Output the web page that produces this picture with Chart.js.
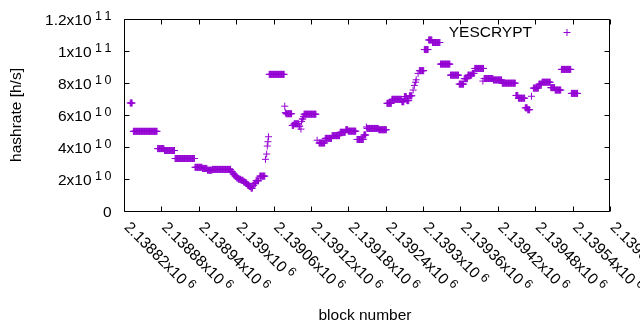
<!DOCTYPE html>
<html>
<head>
<meta charset="utf-8">
<script src="https://cdn.jsdelivr.net/npm/chart.js@4.4.0/dist/chart.umd.min.js"></script>
<style>
    html, body { margin: 0; padding: 0; background: #fff; }
    canvas { display: block; }
</style>
</head>
<body>
<canvas id="chart" width="640" height="330"></canvas>
<script>
// hashrate runs: every block from runStart[i] to runEnd[i] has runHashrate[i] (h/s)
const runStart = [
    2138830, 2138835, 2138874, 2138885, 2138902, 2138934, 2138946, 2138954, 2138962, 2138992,
    2138995, 2138998, 2139001, 2139004, 2139008, 2139012, 2139015, 2139018, 2139021, 2139024,
    2139027, 2139029, 2139032, 2139038, 2139047, 2139049, 2139050, 2139051, 2139052, 2139053,
    2139078, 2139079, 2139080, 2139090, 2139093, 2139101, 2139104, 2139105, 2139106, 2139108,
    2139109, 2139130, 2139133, 2139143, 2139154, 2139167, 2139176, 2139180, 2139194, 2139205,
    2139209, 2139210, 2139229, 2139242, 2139250, 2139266, 2139270, 2139274, 2139278, 2139284,
    2139286, 2139288, 2139289, 2139292, 2139294, 2139302, 2139309, 2139315, 2139328, 2139344,
    2139358, 2139366, 2139372, 2139379, 2139383, 2139396, 2139398, 2139413, 2139427, 2139449,
    2139453, 2139464, 2139468, 2139474, 2139477, 2139486, 2139491, 2139505, 2139512, 2139522,
    2139538
];
const runEnd = [
    2138833, 2138873, 2138884, 2138901, 2138933, 2138945, 2138953, 2138961, 2138991, 2138994,
    2138997, 2139000, 2139003, 2139007, 2139011, 2139014, 2139017, 2139020, 2139023, 2139026,
    2139028, 2139031, 2139036, 2139046, 2139047, 2139049, 2139050, 2139051, 2139052, 2139077,
    2139078, 2139079, 2139089, 2139092, 2139100, 2139102, 2139104, 2139105, 2139107, 2139108,
    2139128, 2139130, 2139142, 2139153, 2139166, 2139175, 2139179, 2139192, 2139204, 2139208,
    2139209, 2139228, 2139241, 2139249, 2139265, 2139269, 2139273, 2139277, 2139282, 2139284,
    2139286, 2139288, 2139289, 2139292, 2139301, 2139308, 2139314, 2139327, 2139343, 2139357,
    2139365, 2139371, 2139378, 2139382, 2139397, 2139396, 2139412, 2139426, 2139448, 2139452,
    2139463, 2139467, 2139471, 2139474, 2139485, 2139490, 2139504, 2139511, 2139521, 2139537,
    2139548
];
const runHashrate = [
    67.5e9, 49.8e9, 39.0e9, 37.8e9, 32.8e9, 27.3e9, 26.6e9, 25.5e9, 26.0e9, 24.5e9,
    23.1e9, 21.9e9, 20.6e9, 19.8e9, 19.2e9, 18.2e9, 17.5e9, 16.3e9, 15.3e9, 14.3e9,
    16.0e9, 17.3e9, 18.9e9, 21.8e9, 32.3e9, 35.6e9, 40.6e9, 43.3e9, 46.4e9, 85.4e9,
    65.5e9, 61.5e9, 60.8e9, 53.5e9, 54.5e9, 53.0e9, 51.2e9, 56.0e9, 57.5e9, 59.0e9,
    60.5e9, 44.2e9, 42.5e9, 45.4e9, 47.1e9, 49.2e9, 50.8e9, 49.9e9, 44.7e9, 47.5e9,
    52.5e9, 51.6e9, 50.8e9, 67.3e9, 69.8e9, 68.3e9, 71.5e9, 69.0e9, 72.0e9, 75.6e9,
    78.5e9, 80.5e9, 82.0e9, 86.0e9, 87.7e9, 100.9e9, 106.9e9, 105.3e9, 91.8e9, 84.9e9,
    79.3e9, 82.7e9, 84.9e9, 86.0e9, 89.1e9, 81.2e9, 82.8e9, 81.9e9, 79.9e9, 72.2e9,
    70.5e9, 64.5e9, 63.3e9, 71.7e9, 76.8e9, 79.3e9, 80.5e9, 77.1e9, 75.6e9, 88.5e9,
    73.5e9
];

// tick values and their labels (mantissa + exponent, gnuplot style)
const xTicks = [2138820, 2138880, 2138940, 2139000, 2139060, 2139120, 2139180,
                2139240, 2139300, 2139360, 2139420, 2139480, 2139540, 2139600];
const xTickMain = ['2.13882x10', '2.13888x10', '2.13894x10', '2.139x10', '2.13906x10', '2.13912x10', '2.13918x10',
                   '2.13924x10', '2.1393x10', '2.13936x10', '2.13942x10', '2.13948x10', '2.13954x10', '2.1396x10'];
const xTickExp = '6';
const yTicks = [0, 2e10, 4e10, 6e10, 8e10, 1e11, 1.2e11];
const yTickMain = ['0', '2x10', '4x10', '6x10', '8x10', '1x10', '1.2x10'];
const yTickExp = ['', '10', '10', '10', '10', '11', '11'];

const FONT = '"Liberation Sans", Arial, sans-serif';
const PURPLE = '#9400d3';

const points = [];
runStart.forEach((first, i) => {
    for (let b = first; b <= runEnd[i]; b++) points.push({ x: b, y: runHashrate[i] });
});

// draws "main" then a raised exponent, starting at (x0, y0) in the current transform
function powerLabel(ctx, main, exp, x0, y0, gap) {
    ctx.textAlign = 'left';
    ctx.font = '15.5px ' + FONT;
    ctx.fillText(main, x0, y0);
    if (!exp) return;
    const w = ctx.measureText(main).width;
    ctx.font = '12.5px ' + FONT;
    let cx = x0 + w + gap;
    for (const ch of exp) {
        ctx.fillText(ch, cx, y0 - 5);
        cx += ctx.measureText(ch).width + 2.5;
    }
}

function powerWidth(ctx, main, exp, gap) {
    ctx.font = '15.5px ' + FONT;
    let w = ctx.measureText(main).width;
    if (!exp) return w;
    ctx.font = '12.5px ' + FONT;
    w += gap;
    for (const ch of exp) w += ctx.measureText(ch).width + 2.5;
    return w - 2.5;
}

// border, inward ticks and all the text, drawn the way gnuplot does it
const gnuplotFrame = {
    id: 'gnuplotFrame',
    afterDraw(chart) {
        const { ctx, chartArea: a, scales: { x, y } } = chart;
        const L = a.left + 0.5, R = a.right - 0.5, T = a.top + 0.5, B = a.bottom + 0.5;
        ctx.save();
        ctx.strokeStyle = '#000';
        ctx.fillStyle = '#000';
        ctx.lineWidth = 1;
        ctx.beginPath();
        ctx.rect(L, T, R - L, B - T);
        yTicks.forEach(v => {
            const py = Math.round(y.getPixelForValue(v)) + 0.5;
            ctx.moveTo(L, py); ctx.lineTo(L + 5, py);
            ctx.moveTo(R, py); ctx.lineTo(R - 5, py);
        });
        xTicks.forEach(v => {
            const px = Math.round(x.getPixelForValue(v)) + 0.5;
            ctx.moveTo(px, B); ctx.lineTo(px, B - 5);
            ctx.moveTo(px, T); ctx.lineTo(px, T + 5);
        });
        ctx.stroke();
        ctx.textBaseline = 'alphabetic';

        // y tick labels, right aligned
        yTicks.forEach((v, i) => {
            const py = y.getPixelForValue(v);
            const w = powerWidth(ctx, yTickMain[i], yTickExp[i], 3.5);
            powerLabel(ctx, yTickMain[i], yTickExp[i], 111.5 - w, py + 5.5, 3.5);
        });

        // x tick labels, rotated 45 degrees clockwise
        xTicks.forEach((v, i) => {
            const px = x.getPixelForValue(v);
            ctx.save();
            ctx.translate(px - 0.5, a.bottom + 17);
            ctx.rotate(Math.PI / 4);
            powerLabel(ctx, xTickMain[i], xTickExp, 0, 0, 3.5);
            ctx.restore();
        });

        // axis titles
        ctx.font = '15.5px ' + FONT;
        ctx.textAlign = 'center';
        ctx.fillText('block number', 365, 320);
        ctx.save();
        ctx.translate(21, (a.top + a.bottom) / 2);
        ctx.rotate(-Math.PI / 2);
        ctx.fillText('hashrate [h/s]', 0, 0);
        ctx.restore();

        // key
        ctx.textAlign = 'right';
        ctx.fillText(chart.data.datasets[0].label, 532, 37);
        ctx.strokeStyle = PURPLE;
        ctx.beginPath();
        ctx.moveTo(563.5, 32.5); ctx.lineTo(570.5, 32.5);
        ctx.moveTo(567, 29); ctx.lineTo(567, 36);
        ctx.stroke();
        ctx.restore();
    }
};

new Chart(document.getElementById('chart'), {
    type: 'scatter',
    data: {
        datasets: [{
            label: 'YESCRYPT',
            data: points,
            pointStyle: 'cross',
            pointRadius: 3.5,
            pointBorderWidth: 1,
            borderColor: PURPLE,
            backgroundColor: PURPLE,
            showLine: false
        }]
    },
    options: {
        responsive: false,
        animation: false,
        layout: { padding: { top: 19, right: 30, left: 0, bottom: 0 }, autoPadding: false },
        plugins: { legend: { display: false }, tooltip: { enabled: false } },
        scales: {
            x: {
                type: 'linear',
                min: 2138820,
                max: 2139600,
                ticks: { display: false },
                grid: { display: false },
                border: { display: false },
                afterFit: s => { s.height = 119; }
            },
            y: {
                min: 0,
                max: 1.2e11,
                ticks: { display: false },
                grid: { display: false },
                border: { display: false },
                afterFit: s => { s.width = 124; }
            }
        }
    },
    plugins: [gnuplotFrame]
});
</script>
</body>
</html>
